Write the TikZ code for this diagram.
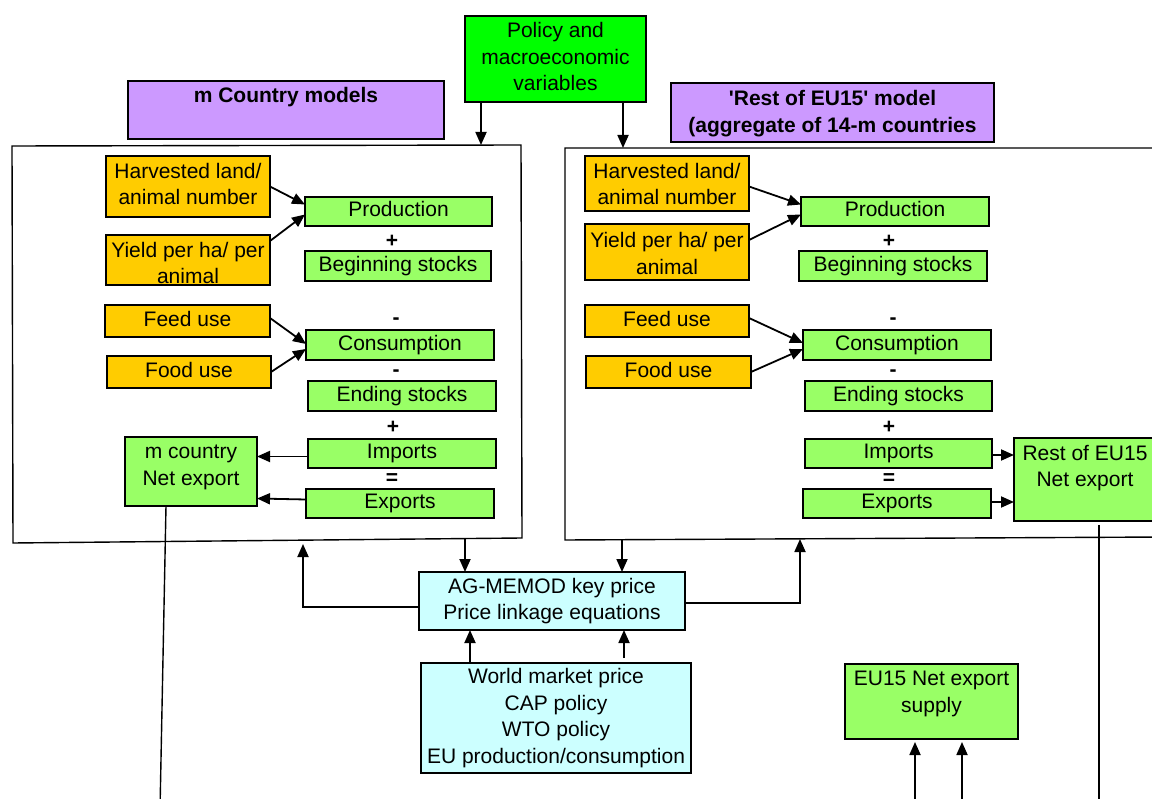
\documentclass[tikz,border=0pt]{standalone}
\usepackage{fontspec}
\setmainfont{Liberation Sans}
\usetikzlibrary{arrows.meta}
\definecolor{orng}{HTML}{FFCC00}
\definecolor{lgreen}{HTML}{99FF66}
\definecolor{bgreen}{HTML}{00FF00}
\definecolor{purp}{HTML}{CC99FF}
\definecolor{lcyan}{HTML}{CCFFFF}
\begin{document}
\begin{tikzpicture}[x=1pt,y=-1pt,
  font=\fontsize{21}{26.5}\selectfont,
  boxbase/.style={draw=black, line width=1.5pt, inner sep=0pt, outer sep=0pt},
  boxone/.style={boxbase, text height=15pt, text depth=4.5pt},
  boxm/.style={boxbase, align=center},
  txt/.style={inner sep=0pt, align=center},
  bold/.style={inner sep=0pt, align=center, font=\fontsize{21}{27}\selectfont\bfseries},
  sign/.style={inner sep=0pt, font=\fontsize{21}{21}\selectfont\bfseries},
  arr/.style={line width=1.8pt, -{Triangle[length=13pt,width=11pt]}},
  frameline/.style={line width=1.4pt},
  ob/.style={fill=orng}, gb/.style={fill=lgreen}, pb/.style={fill=purp},
  cb/.style={fill=lcyan}, bg/.style={fill=bgreen}
]
\useasboundingbox (0,0) rectangle (1152,799);
\clip (0,0) rectangle (1152,799);

% ---- top boxes
\node[boxbase, bg, minimum width=181pt, minimum height=86pt] (policy) at (555.5,59) {};
\node[txt] (policyt) at (555.5,56.5) {Policy and\\macroeconomic\\variables};
\node[boxbase, pb, minimum width=316pt, minimum height=58pt] (purpL) at (286,110) {};
\node[bold] (purpLt) at (286,97) {m Country models};
\node[boxbase, pb, minimum width=323pt, minimum height=59pt] (purpR) at (832.5,112.5) {};
\node[bold] (purpRt) at (832.5,113.5)
  {\textquotesingle Rest of EU15\textquotesingle{} model\\(aggregate of 14-m countries};

% ---- frames
\coordinate (LF1) at (12,146); \coordinate (LF2) at (521,145);
\coordinate (LF3) at (522,538); \coordinate (LF4) at (13,543);
\draw[frameline] (LF1) -- (LF2) -- (LF3) -- (LF4) -- cycle;
\coordinate (RF1) at (565,148); \coordinate (RF2) at (1165,148);
\coordinate (RF3) at (1165,537); \coordinate (RF4) at (565,540);
\draw[frameline] (RF2) -- (RF1) -- (RF4) -- (RF3);

% ---- left model
\node[boxbase, ob, minimum width=164pt, minimum height=61pt] (harvL) at (188,186.5) {};
\node[txt] (harvLt) at (188,184) {Harvested land/\\animal number};
\node[boxbase, ob, minimum width=164pt, minimum height=50pt] (yieldL) at (188,260) {};
\node[txt] (yieldLt) at (188,263) {Yield per ha/ per\\animal};
\node[boxone, gb, minimum width=187pt, minimum height=29pt] (prodL) at (398.5,211.5) {Production};
\node[boxone, gb, minimum width=186pt, minimum height=30pt] (begL) at (398,266) {Beginning stocks};
\node[boxone, ob, minimum width=165pt, minimum height=32pt] (feedL) at (187.5,321) {Feed use};
\node[boxone, ob, minimum width=164pt, minimum height=32pt] (foodL) at (189,372) {Food use};
\node[boxone, gb, minimum width=188pt, minimum height=30pt] (consL) at (400,345) {Consumption};
\node[boxone, gb, minimum width=188pt, minimum height=30pt] (endL) at (402,396) {Ending stocks};
\node[boxone, gb, minimum width=188pt, minimum height=29pt] (impL) at (402,453.5) {Imports};
\node[boxone, gb, minimum width=188pt, minimum height=29pt] (expL) at (400,503.5) {Exports};
\node[boxbase, gb, minimum width=132pt, minimum height=69pt] (mnet) at (191,471.5) {};
\node[txt] (mnett) at (191,467.5) {m country\\Net export};
\node[sign] (sL1) at (392,241) {+};
\node[sign] (sL2) at (396,321) {-};
\node[sign] (sL3) at (396,373) {-};
\node[sign] (sL4) at (393,427) {+};
\node[sign] (sL5) at (392,479) {=};

\draw[arr] (harvL.east) -- ([yshift=7pt]prodL.west);
\draw[arr] ([yshift=19pt]yieldL.east) -- ([yshift=-3pt]prodL.west);
\draw[arr] ([yshift=3pt]feedL.east) -- ([yshift=1pt]consL.west);
\draw[arr] (foodL.east) -- ([yshift=-4pt]consL.west);
\draw[arr] ([yshift=-3pt]impL.west) -- ([yshift=-3pt]impL.west -| mnet.east);
\draw[arr] ([yshift=4pt]expL.west) -- ([yshift=5pt]expL.west -| mnet.east);

% ---- right model
\node[boxbase, ob, minimum width=164pt, minimum height=55pt] (harvR) at (667,183.5) {};
\node[txt] (harvRt) at (667,184) {Harvested land/\\animal number};
\node[boxbase, ob, minimum width=164pt, minimum height=56pt] (yieldR) at (667,252) {};
\node[txt] (yieldRt) at (667,253.5) {Yield per ha/ per\\animal};
\node[boxone, gb, minimum width=188pt, minimum height=29pt] (prodR) at (895,211.5) {Production};
\node[boxone, gb, minimum width=188pt, minimum height=30pt] (begR) at (893,266) {Beginning stocks};
\node[boxone, ob, minimum width=164pt, minimum height=32pt] (feedR) at (667,321) {Feed use};
\node[boxone, ob, minimum width=165pt, minimum height=32pt] (foodR) at (668.5,372) {Food use};
\node[boxone, gb, minimum width=188pt, minimum height=30pt] (consR) at (897,345) {Consumption};
\node[boxone, gb, minimum width=187pt, minimum height=30pt] (endR) at (898.5,396) {Ending stocks};
\node[boxone, gb, minimum width=187pt, minimum height=29pt] (impR) at (898.5,453.5) {Imports};
\node[boxone, gb, minimum width=188pt, minimum height=29pt] (expR) at (897,503.5) {Exports};
\node[boxbase, gb, minimum width=150pt, minimum height=83pt] (restnet) at (1089,479.5) {};
\node[txt] (restnett) at (1085,468) {Rest of EU15\\Net export};
\node[sign] (sR1) at (889,241) {+};
\node[sign] (sR2) at (893,321) {-};
\node[sign] (sR3) at (893,373) {-};
\node[sign] (sR4) at (889,427) {+};
\node[sign] (sR5) at (889,479) {=};

\draw[arr] ([yshift=-3pt]harvR.east) -- ([yshift=7pt]prodR.west);
\draw[arr] ([yshift=12pt]yieldR.east) -- ([yshift=-3pt]prodR.west);
\draw[arr] ([yshift=3pt]feedR.east) -- ([yshift=2pt]consR.west);
\draw[arr] (foodR.east) -- ([yshift=-4pt]consR.west);
\draw[arr] ([yshift=-1.5pt]impR.east) -- ([yshift=-1.5pt]impR.east -| restnet.west);
\draw[arr] ([yshift=1.5pt]expR.east) -- ([yshift=1.5pt]expR.east -| restnet.west);

% ---- policy arrows
\coordinate (pa1) at (481,145); \coordinate (pa2) at (623,148);
\draw[arr] (policy.south -| pa1) -- (pa1);
\draw[arr] (policy.south -| pa2) -- (pa2);

% ---- price linkage
\node[boxm, cb, minimum width=266pt, minimum height=58pt] (ag) at (552,601) {AG-MEMOD key price\\Price linkage equations};
\node[boxm, cb, minimum width=270pt, minimum height=110pt] (world) at (556,718) {World market price\\CAP policy\\WTO policy\\EU production/consumption};

\coordinate (da1) at (465,539); \coordinate (da2) at (622,540);
\draw[arr] (da1) -- (da1 |- ag.north);
\draw[arr] (da2) -- (da2 |- ag.north);
\coordinate (ua1) at (303,544); \coordinate (ua2) at (800,539);
\draw[arr] ([yshift=-6pt]ag.west) -| (ua1);
\draw[arr] ([yshift=-2pt]ag.east) -| (ua2);
\coordinate (wa1) at (470,0); \coordinate (wa2) at (624,0);
\draw[arr] (wa1 |- world.north) -- (wa1 |- ag.south);
\draw[arr] ([yshift=5pt]wa2 |- world.north) -- (wa2 |- ag.south);

% ---- EU15 net export supply
\node[boxbase, gb, minimum width=173pt, minimum height=75pt] (eu) at (931.5,701.5) {};
\node[txt] (eut) at (931.5,694) {EU15 Net export\\supply};
\coordinate (e1) at (915,810); \coordinate (e2) at (962,810);
\draw[arr, shorten >=3pt] (e1) -- (e1 |- eu.south);
\draw[arr, shorten >=3pt] (e2) -- (e2 |- eu.south);

% ---- long lines to the bottom
\coordinate (b1) at (160,810); \coordinate (b2) at (1099,810);
\draw[frameline] ([xshift=-25pt]mnet.south) -- (b1);
\draw[frameline] ([yshift=-4pt]restnet.south -| b2) -- (b2);
\end{tikzpicture}
\end{document}
